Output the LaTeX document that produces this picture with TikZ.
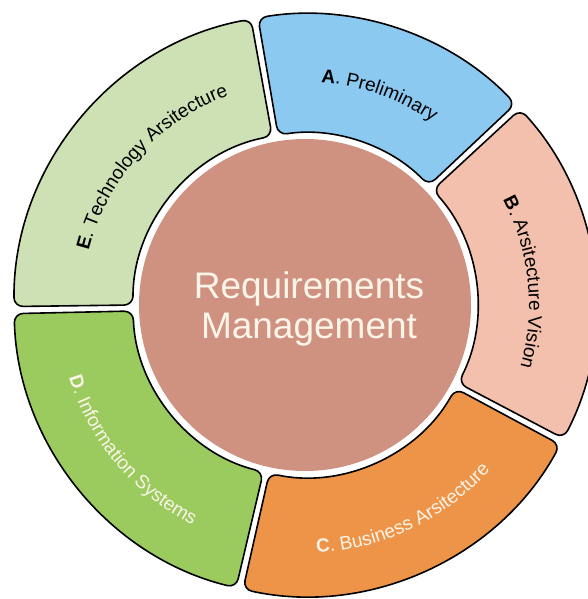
\documentclass[tikz,border=0pt]{standalone}
\usepackage{fontspec}
\setmainfont{Liberation Sans}
\usetikzlibrary{decorations.text}
\definecolor{prelim}{HTML}{8CC9F0}
\definecolor{vision}{HTML}{F2C0AC}
\definecolor{business}{HTML}{EE9448}
\definecolor{infosys}{HTML}{9BCB5F}
\definecolor{techno}{HTML}{CDE1B4}
\definecolor{reqman}{HTML}{D09280}
\definecolor{cream}{HTML}{FBF4E8}
\newcommand\labfont{\fontsize{19}{22}\selectfont}

\begin{document}
\begin{tikzpicture}[x=1pt,y=1pt,
  phase/.style={draw=black,line width=1.6pt,rounded corners=9pt,line join=round},
  curved/.style={decorate,decoration={text along path,text align=center,text color=#1}}]
  \useasboundingbox (-305,-294) rectangle (282,305);
  \foreach \from/\to/\col in {43/100/prelim,-28/43/vision,-103/-28/business,181/257/infosys,100/181/techno}
    \draw[phase,fill=\col] ({\from+0.7}:291) arc[start angle=\from+0.7,end angle=\to-0.7,radius=291]
      -- ({\to-1}:172) arc[start angle=\to-1,end angle=\from+1,radius=172] -- cycle;
  \fill[reqman] (0,0) circle[radius=166];
  \node[font=\fontsize{37}{40}\selectfont,text=cream,align=center] (req) at (4,-4) {Requirements\\Management};
  % phase labels
  \path[curved=black,decoration={text={|\labfont\bfseries|A|\labfont\mdseries|. Preliminary}}]
    (98:223) arc[start angle=98,end angle=43,radius=223];
  \path[curved=black,decoration={text={|\labfont\bfseries|B|\labfont\mdseries|. Arsitecture Vision}}]
    (40:224) arc[start angle=40,end angle=-28,radius=224];
  \path[curved=cream,decoration={text={|\labfont\bfseries|C|\labfont\mdseries|. Business Arsitecture}}]
    (-100:248) arc[start angle=-100,end angle=-29,radius=248];
  \path[curved=cream,decoration={text={|\labfont\bfseries|D|\labfont\mdseries|. Information Systems}}]
    (184:247) arc[start angle=184,end angle=256,radius=247];
  \path[curved=black,decoration={text={|\labfont\bfseries|E|\labfont\mdseries|. Technology Arsitecture}}]
    (176:223) arc[start angle=176,end angle=100,radius=223];
\end{tikzpicture}
\end{document}
